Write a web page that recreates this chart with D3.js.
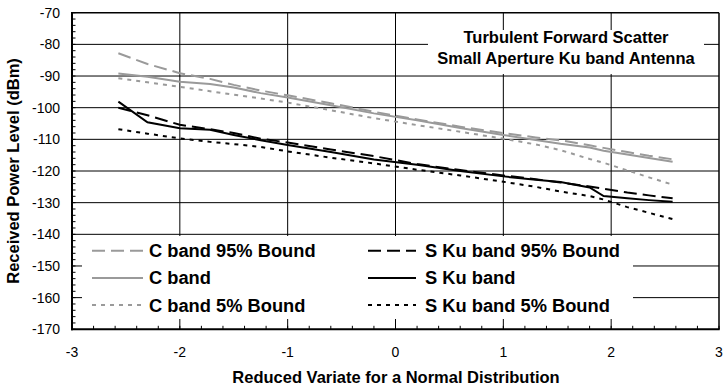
<!DOCTYPE html>
<html><head><meta charset="utf-8">
<script src="https://cdn.jsdelivr.net/npm/d3@7"></script>
<style>
html,body{margin:0;padding:0;background:#fff;}
svg{display:block;font-family:"Liberation Sans",Arial,Helvetica,sans-serif;}
</style></head>
<body>
<svg id="chart" width="723" height="390"></svg>
<script>
// ---------- data ----------
const xValues = [-2.57, -2.3, -2.0, -1.72, -1.5, -1.25, -1.0, -0.6, -0.2, 0.2, 0.6, 1.0, 1.3, 1.53, 1.8, 1.93, 2.15, 2.35, 2.57];
const cBand95 = [-82.8, -86.2, -89.1, -90.9, -92.8, -94.6, -96.1, -98.6, -101.3, -103.7, -106.0, -108.0, -109.4, -110.3, -111.9, -112.7, -114.0, -115.2, -116.3];
const cBand   = [-89.2, -90.2, -91.8, -92.5, -93.6, -95.4, -96.8, -99.2, -101.8, -104.0, -106.4, -108.6, -110.2, -111.4, -112.6, -113.6, -114.8, -115.9, -117.1];
const cBand5  = [-90.7, -92.0, -93.4, -94.8, -95.9, -97.1, -98.4, -100.8, -103.3, -105.5, -107.6, -109.8, -111.6, -113.4, -116.2, -117.4, -119.8, -122.0, -124.3];
const sKu95   = [-100.0, -102.4, -105.4, -106.8, -108.0, -109.8, -111.0, -113.2, -115.3, -117.8, -119.7, -121.4, -122.6, -123.6, -124.9, -125.6, -126.8, -127.7, -128.6];
const sKu     = [-98.1, -104.6, -106.5, -107.0, -108.6, -110.3, -111.8, -114.0, -116.4, -118.0, -120.0, -121.7, -122.8, -123.5, -125.2, -127.9, -128.6, -129.2, -129.7];
const sKu5    = [-106.8, -108.2, -109.7, -110.8, -111.5, -112.4, -113.8, -115.8, -117.6, -119.6, -121.4, -123.4, -125.0, -126.5, -127.9, -129.0, -131.4, -133.2, -135.2];
const seriesNames = ["C band 95% Bound", "C band", "C band 5% Bound", "S Ku band 95% Bound", "S Ku band", "S Ku band 5% Bound"];
const xTicks = [-3, -2, -1, 0, 1, 2, 3];
const yTicks = [-70, -80, -90, -100, -110, -120, -130, -140, -150, -160, -170];
const titleLines = ["Turbulent Forward Scatter", "Small Aperture Ku band Antenna"];
const xTitle = "Reduced Variate for a Normal Distribution";
const yTitle = "Received Power Level (dBm)";

// ---------- styles ----------
const GRAY = "#9a9a9a";
const styles = [
  {color: GRAY, dash: "13,6"},
  {color: GRAY, dash: null},
  {color: GRAY, dash: "4,5"},
  {color: "#000", dash: "13,6"},
  {color: "#000", dash: null},
  {color: "#000", dash: "4,5"}
];
const allValues = [cBand95, cBand, cBand5, sKu95, sKu, sKu5];

const svg = d3.select("#chart");
const L = 72, R = 719, T = 12.7, B = 329.3;
const x = d3.scaleLinear().domain([-3, 3]).range([L, R]);
const y = d3.scaleLinear().domain([-170, -70]).range([B, T]);

// gridlines
const grid = svg.append("g");
grid.selectAll("line.h").data(yTicks.filter(v => v > -170 && v < -70)).join("line")
  .attr("x1", L).attr("x2", R).attr("y1", d => y(d)).attr("y2", d => y(d))
  .attr("stroke", "#000").attr("stroke-width", 1);
grid.selectAll("line.v").data(xTicks.filter(v => v > -3 && v < 3)).join("line")
  .attr("y1", T).attr("y2", B).attr("x1", d => x(d)).attr("x2", d => x(d))
  .attr("stroke", "#000").attr("stroke-width", 1);

// minor ticks (inside)
const minorY = d3.range(-170, -69, 2);
svg.append("g").selectAll("line").data(minorY).join("line")
  .attr("x1", L).attr("x2", L + 3.5).attr("y1", d => y(d)).attr("y2", d => y(d))
  .attr("stroke", "#000").attr("stroke-width", 1);
const minorX = d3.range(-3, 3.001, 0.2);
svg.append("g").selectAll("line").data(minorX).join("line")
  .attr("y1", B).attr("y2", B - 3.5).attr("x1", d => x(d)).attr("x2", d => x(d))
  .attr("stroke", "#000").attr("stroke-width", 1);

// data lines
const line = d3.line().x(d => x(d[0])).y(d => y(d[1]));
allValues.forEach((vals, i) => {
  const pts = xValues.map((xv, j) => [xv, vals[j]]);
  svg.append("path").datum(pts).attr("d", line)
    .attr("fill", "none").attr("stroke", styles[i].color).attr("stroke-width", 2)
    .attr("stroke-dasharray", styles[i].dash);
});

// title box
svg.append("rect").attr("x", 428).attr("y", 30).attr("width", 276).attr("height", 44).attr("fill", "#fff");
svg.append("g").selectAll("text").data(titleLines).join("text")
  .attr("x", 566).attr("y", (d, i) => 43 + i * 20.5)
  .attr("text-anchor", "middle").attr("font-size", 16.5).attr("font-weight", "bold").text(d => d);

// legend box
svg.append("rect").attr("x", 82).attr("y", 236).attr("width", 551).attr("height", 83).attr("fill", "#fff");
const legend = svg.append("g");
seriesNames.forEach((name, i) => {
  const col = Math.floor(i / 3), row = i % 3;
  const lx0 = col === 0 ? 92 : 368, lx1 = col === 0 ? 143 : 416;
  const tx = col === 0 ? 149 : 425;
  const cy = 250.7 + row * 27.2;
  legend.append("line").attr("x1", lx0).attr("x2", lx1).attr("y1", cy).attr("y2", cy)
    .attr("stroke", styles[i].color).attr("stroke-width", 2).attr("stroke-dasharray", styles[i].dash);
  legend.append("text").attr("x", tx).attr("y", cy + 6.5)
    .attr("font-size", 18.3).attr("font-weight", "bold").text(name);
});

// frame
svg.append("line").attr("x1", L).attr("x2", R).attr("y1", T).attr("y2", T).attr("stroke", "#000").attr("stroke-width", 1.5);
svg.append("line").attr("x1", R).attr("x2", R).attr("y1", T).attr("y2", B).attr("stroke", "#000").attr("stroke-width", 1.5);
svg.append("line").attr("x1", L).attr("x2", L).attr("y1", T - 0.7).attr("y2", B + 1).attr("stroke", "#000").attr("stroke-width", 2);
svg.append("line").attr("x1", L - 1).attr("x2", R + 0.7).attr("y1", B).attr("y2", B).attr("stroke", "#000").attr("stroke-width", 2);

// tick labels
svg.append("g").selectAll("text").data(yTicks).join("text")
  .attr("x", 60).attr("y", d => y(d) + 5).attr("text-anchor", "end")
  .attr("font-size", 14).text(d => d);
svg.append("g").selectAll("text").data(xTicks).join("text")
  .attr("x", d => x(d)).attr("y", 357).attr("text-anchor", "middle")
  .attr("font-size", 14).text(d => d);

// axis titles
svg.append("text").attr("x", 396).attr("y", 383).attr("text-anchor", "middle")
  .attr("font-size", 16.5).attr("font-weight", "bold").text(xTitle);
svg.append("text").attr("transform", `translate(19,${(T + B) / 2}) rotate(-90)`)
  .attr("text-anchor", "middle").attr("font-size", 16.5).attr("font-weight", "bold").text(yTitle);
</script>
</body></html>
